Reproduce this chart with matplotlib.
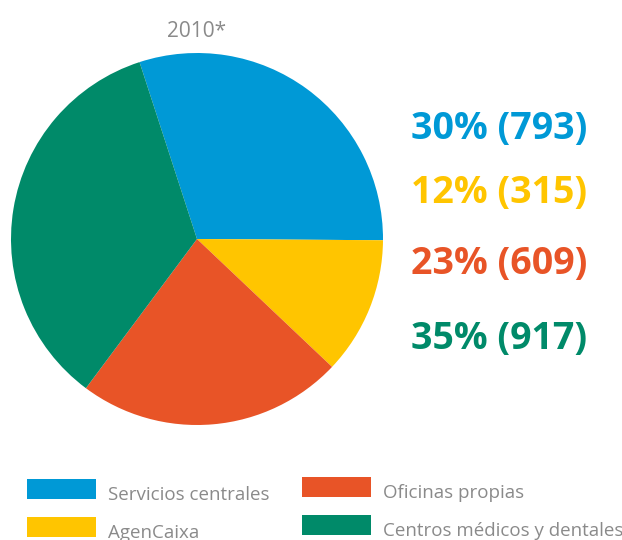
import matplotlib
matplotlib.use("Agg")
import matplotlib.pyplot as plt
from matplotlib.patches import Rectangle

plt.rcParams['font.family'] = ['Open Sans', 'DejaVu Sans']

categories = ["Servicios centrales", "AgenCaixa", "Oficinas propias", "Centros médicos y dentales"]
values = [793, 315, 609, 917]
percents = [30, 12, 23, 35]
colors = ["#0099d6", "#ffc500", "#e85427", "#008a69"]
title = "2010*"

W, H = 622, 540
fig = plt.figure(figsize=(W / 100, H / 100), dpi=100)

def fx(px):
    return px / W

def fy(py):
    return 1 - py / H

# pie
cx, cy, r = 197, 239, 186
ax = fig.add_axes([fx(cx - r), fy(cy + r), 2 * r / W, 2 * r / H])
ax.pie(values, colors=colors, startangle=108, counterclock=False,
       radius=1, wedgeprops=dict(linewidth=0))
ax.set_xlim(-1, 1)
ax.set_ylim(-1, 1)
ax.set_aspect('equal')
ax.axis('off')

# title
fig.text(fx(197), fy(37), title, ha='center', va='baseline',
         fontsize=15, color='#8a8a8a')

# value labels
baselines = [139, 203, 274, 349]
for p, v, c, b in zip(percents, values, colors, baselines):
    fig.text(fx(411), fy(b), f"{p}% ({v})", ha='left', va='baseline',
             fontsize=27, fontweight='bold', color=c)

# legend
leg_pos = [(27, 479), (27, 517), (302, 477), (302, 515)]
for (lx, ly), lab, c in zip(leg_pos, categories, colors):
    fig.patches.append(Rectangle((fx(lx), fy(ly + 20)), 69 / W, 20 / H,
                                 transform=fig.transFigure, facecolor=c,
                                 edgecolor='none'))
    fig.text(fx(lx + 81), fy(ly + 21), lab, ha='left', va='baseline',
             fontsize=13.5, color='#8a8a8a')

fig.savefig("out.png", dpi=100)
